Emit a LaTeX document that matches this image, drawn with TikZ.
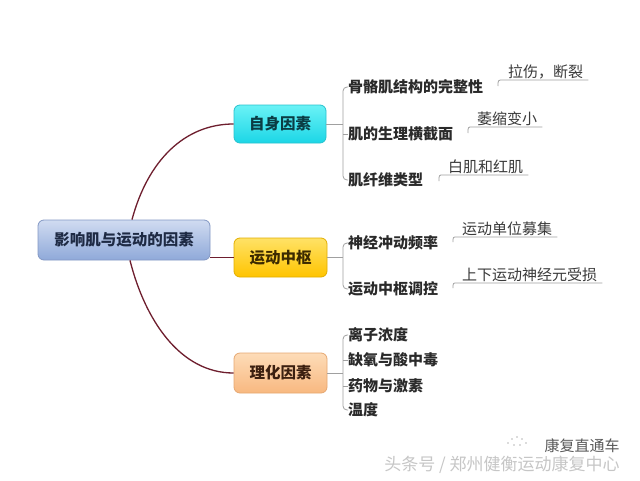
\documentclass[tikz,border=0pt]{standalone}
\usepackage{fontspec}
\setmainfont{Noto Sans CJK SC}
\usetikzlibrary{calc}
\definecolor{rootT}{HTML}{D0DBF1}
\definecolor{rootB}{HTML}{8FA9D9}
\definecolor{rootD}{HTML}{8398C4}
\definecolor{rootTx}{HTML}{1E2A44}
\definecolor{cyT}{HTML}{6AF2F6}
\definecolor{cyB}{HTML}{1CD6E6}
\definecolor{cyD}{HTML}{28C2CE}
\definecolor{cyTx}{HTML}{0A3C44}
\definecolor{yeT}{HTML}{FFE266}
\definecolor{yeB}{HTML}{FFC400}
\definecolor{yeD}{HTML}{E2AE00}
\definecolor{yeTx}{HTML}{3C2A00}
\definecolor{peT}{HTML}{FDDCB8}
\definecolor{peB}{HTML}{F8B880}
\definecolor{peD}{HTML}{E6A872}
\definecolor{peTx}{HTML}{3C2010}
\definecolor{trunkc}{HTML}{6E1E2E}
\definecolor{twigc}{HTML}{A0A0A0}
\definecolor{ltwo}{HTML}{2A2A2A}
\definecolor{lthree}{HTML}{3A3A3A}
\begin{document}
\begin{tikzpicture}[x=1pt,y=-1pt,
  mainbox/.style={rounded corners=6pt, inner sep=0pt, line width=0.8pt,
    font=\fontsize{15.5}{15.5}\selectfont\bfseries},
  rootbox/.style={mainbox, top color=rootT, bottom color=rootB, draw=rootD, text=rootTx,
    minimum width=172pt, minimum height=40pt},
  cyanbox/.style={mainbox, top color=cyT, bottom color=cyB, draw=cyD, text=cyTx,
    minimum width=92pt, minimum height=38pt},
  yelbox/.style={mainbox, top color=yeT, bottom color=yeB, draw=yeD, text=yeTx,
    minimum width=93pt, minimum height=39pt},
  peachbox/.style={mainbox, top color=peT, bottom color=peB, draw=peD, text=peTx,
    minimum width=93pt, minimum height=40pt},
  lvltwo/.style={anchor=west, inner sep=0pt, text=ltwo,
    font=\fontsize{15}{18}\selectfont\bfseries},
  lvlthree/.style={anchor=base west, inner xsep=5pt, inner ysep=0pt, text=lthree,
    font=\fontsize{15}{18}\selectfont},
  trunk/.style={draw=trunkc, line width=1.3pt},
  twig/.style={draw=twigc, line width=0.8pt},
  wmark/.style={text=gray!45, font=\fontsize{17}{17}\selectfont},
  wmarktwo/.style={text=black!65, font=\fontsize{15}{15}\selectfont}
]
\useasboundingbox[fill=white] (0,0) rectangle (640,480);

% main nodes
\node[rootbox] (root) at (124,240) {影响肌与运动的因素};
\node[cyanbox] (zs) at (280,124) {自身因素};
\node[yelbox] (yd) at (280.5,257.5) {运动中枢};
\node[peachbox] (lh) at (280.5,373) {理化因素};

% trunk connectors
\coordinate (rt) at ($(root.north)+(8,0)$);
\coordinate (rb) at ($(root.south)+(6,0)$);
\draw[trunk] (rt) .. controls (148,160) and (185,124) .. (zs.west);
\draw[trunk] (rb) .. controls (145,320) and (180,373) .. (lh.west);
\draw[trunk] (yd.west -| root.east) -- (yd.west);

% level two
\node[lvltwo] (a1) at (348,87) {骨骼肌结构的完整性};
\node[lvltwo] (a2) at (348,134) {肌的生理横截面};
\node[lvltwo] (a3) at (348,180) {肌纤维类型};
\node[lvltwo] (b1) at (348,243) {神经冲动频率};
\node[lvltwo] (b2) at (348,289) {运动中枢调控};
\node[lvltwo] (c1) at (348,335) {离子浓度};
\node[lvltwo] (c2) at (348,360) {缺氧与酸中毒};
\node[lvltwo] (c3) at (348,386) {药物与激素};
\node[lvltwo] (c4) at (348,410) {温度};

% brackets
\coordinate (ja) at (343,124);
\coordinate (jb) at (343,257.5);
\coordinate (jc) at (343,373);
\draw[twig] (zs.east) -- (ja);
\draw[twig, rounded corners=4pt] (a1.west) -| (ja) |- (a3.west);
\draw[twig] (a2.west) -- (a2.west -| ja);
\draw[twig] (yd.east) -- (jb);
\draw[twig, rounded corners=4pt] (b1.west) -| (jb) |- (b2.west);
\draw[twig] (lh.east) -- (jc);
\draw[twig, rounded corners=4pt] (c1.west) -| (jc) |- (c4.west);
\draw[twig] (c2.west) -- (c2.west -| jc);
\draw[twig] (c3.west) -- (c3.west -| jc);

% level three
\node[lvlthree] (a1x) at (503,77.5) {拉伤，断裂};
\node[lvlthree] (a2x) at (472,124.5) {萎缩变小};
\node[lvlthree] (a3x) at (443,172.5) {白肌和红肌};
\node[lvlthree] (b1x) at (457,234.5) {运动单位募集};
\node[lvlthree] (b2x) at (457,280.5) {上下运动神经元受损};

\foreach \n/\sx/\sy in {a1x/498/86, a2x/468/133, a3x/439/181, b1x/453/242, b2x/453/288}{
  \coordinate (s-\n) at (\sx,\sy);
  \coordinate (u-\n) at ($(\n.base west)+(0,2.5)$);
  \coordinate (v-\n) at ($(\n.base east)+(0,2.5)$);
  \draw[twig] (s-\n) .. controls (s-\n |- u-\n) .. (u-\n) -- (v-\n);
}

% watermark
\node[wmark] (wm) at (502,465) {头条号 / 郑州健衡运动康复中心};
\node[wmarktwo] (wmt) at (582,446) {康复直通车};
\foreach \px/\py in {508/443, 512/439, 517/437, 522/439, 526/443, 514/445, 520/445}{
  \fill[gray!55] (\px,\py) circle (0.9pt);
}
\end{tikzpicture}
\end{document}
